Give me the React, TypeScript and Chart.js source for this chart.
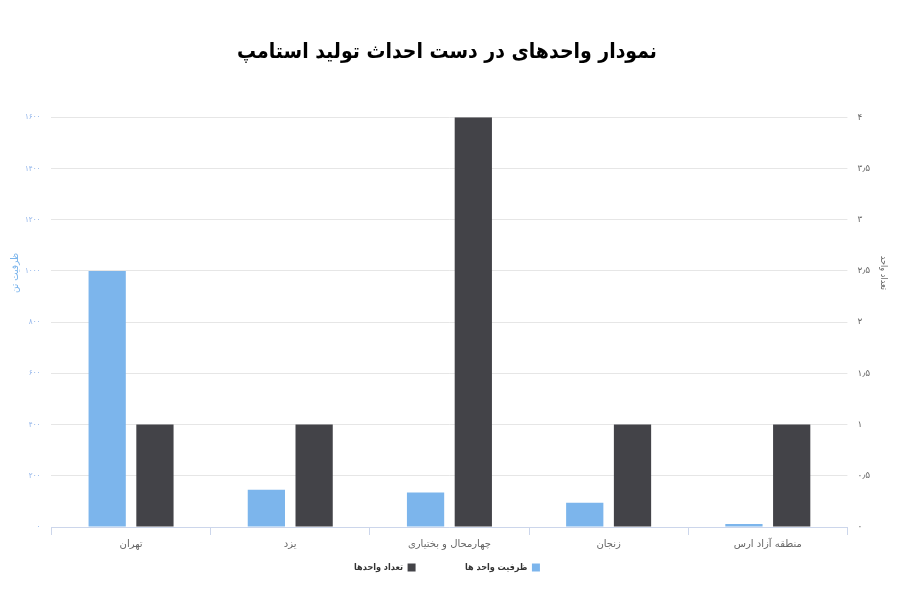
import React, { useEffect, useRef } from "react";
import { Chart, registerables } from "chart.js";

Chart.register(...registerables);

const categories = ["تهران", "یزد", "چهارمحال و بختیاری", "زنجان", "منطقه آزاد ارس"];
const capacityValues = [1000, 145, 135, 95, 12];
const unitCountValues = [1, 1, 4, 1, 1];
const capacityLabel = "ظرفیت واحد ها";
const unitCountLabel = "تعداد واحدها";
const titleText = "نمودار واحدهای در دست احداث تولید استامپ";
const leftAxisTitle = "ظرفیت تن";
const rightAxisTitle = "تعداد واحد";

const FONT = "'DejaVu Sans', sans-serif";
const FONT_C = "'DejaVu Sans Condensed', 'DejaVu Sans', sans-serif";

function toPersian(v: number | string): string {
  const d = "۰۱۲۳۴۵۶۷۸۹";
  return String(v).replace(/[0-9]/g, (c) => d[+c]).replace(".", "٫");
}

const axisTitlePlugin = {
  id: "axisTitles",
  afterDraw(chart: any) {
    const { ctx, chartArea } = chart;
    const yMid = chartArea.top + (chartArea.bottom - chartArea.top) * 0.38;
    ctx.save();
    ctx.textAlign = "center";
    ctx.textBaseline = "middle";
    ctx.save();
    ctx.translate(chartArea.left - 36, yMid);
    ctx.rotate(-Math.PI / 2);
    ctx.fillStyle = "#7cb5ec";
    ctx.font = `10px ${FONT_C}`;
    ctx.fillText(leftAxisTitle, 0, 0);
    ctx.restore();
    ctx.save();
    ctx.translate(chartArea.right + 36, yMid);
    ctx.rotate(Math.PI / 2);
    ctx.fillStyle = "#666";
    ctx.font = `9px ${FONT_C}`;
    ctx.fillText(rightAxisTitle, 0, 0);
    ctx.restore();
    ctx.restore();
  },
};

export default function App() {
  const ref = useRef<HTMLCanvasElement | null>(null);
  useEffect(() => {
    if (!ref.current) return;
    const chart = new Chart(ref.current, {
      type: "bar",
      data: {
        labels: categories,
        datasets: [
          {
            label: capacityLabel,
            data: capacityValues,
            backgroundColor: "#7cb5ec",
            yAxisID: "y",
            categoryPercentage: 0.6,
            barPercentage: 0.78,
          },
          {
            label: unitCountLabel,
            data: unitCountValues,
            backgroundColor: "#434348",
            yAxisID: "y1",
            categoryPercentage: 0.6,
            barPercentage: 0.78,
          },
        ],
      },
      plugins: [axisTitlePlugin],
      options: {
        animation: false,
        responsive: false,
        maintainAspectRatio: false,
        layout: { padding: { left: 14, right: 20, top: 0, bottom: 18 } },
        plugins: {
          title: {
            display: true,
            text: titleText,
            color: "#000",
            font: { family: FONT_C, size: 21, weight: "bold" },
            padding: { top: 40, bottom: 52 },
          },
          legend: {
            position: "bottom",
            rtl: true,
            labels: {
              boxWidth: 8,
              boxHeight: 8,
              color: "#333",
              font: { family: FONT_C, size: 9, weight: "bold" },
              padding: 10,
              generateLabels: (chart: any) => {
                const items = Chart.defaults.plugins.legend.labels.generateLabels(chart);
                const spacer = {
                  text: "      ",
                  fillStyle: "rgba(0,0,0,0)",
                  strokeStyle: "rgba(0,0,0,0)",
                  lineWidth: 0,
                  hidden: false,
                  datasetIndex: -1,
                };
                return [items[0], spacer, items[1]];
              },
            },
          },
          tooltip: { enabled: false },
        },
        scales: {
          x: {
            grid: {
              display: true,
              drawOnChartArea: false,
              drawTicks: true,
              tickLength: 8,
              color: "#ccd6eb",
              offset: true,
            },
            border: { color: "#ccd6eb" },
            ticks: { color: "#666", font: { family: FONT, size: 10 }, padding: 3 },
          },
          y: {
            position: "left",
            min: 0,
            max: 1600,
            ticks: {
              stepSize: 200,
              color: "#8fb3ea",
              font: { family: FONT_C, size: 8 },
              padding: 11,
              callback: (v: any) => toPersian(v),
            },
            grid: { color: "#e6e6e6", drawTicks: false },
            border: { display: false },
          },
          y1: {
            position: "right",
            min: 0,
            max: 4,
            ticks: {
              stepSize: 0.5,
              color: "#666",
              font: { family: FONT, size: 9 },
              padding: 10,
              callback: (v: any) => toPersian(v),
            },
            grid: { drawOnChartArea: false, drawTicks: false },
            border: { display: false },
          },
        },
      },
    });
    return () => chart.destroy();
  }, []);
  return (
    <div style={{ position: "fixed", left: 0, top: 0, width: 900, height: 600, background: "#fff" }}>
      <canvas ref={ref} width={900} height={600} />
    </div>
  );
}
